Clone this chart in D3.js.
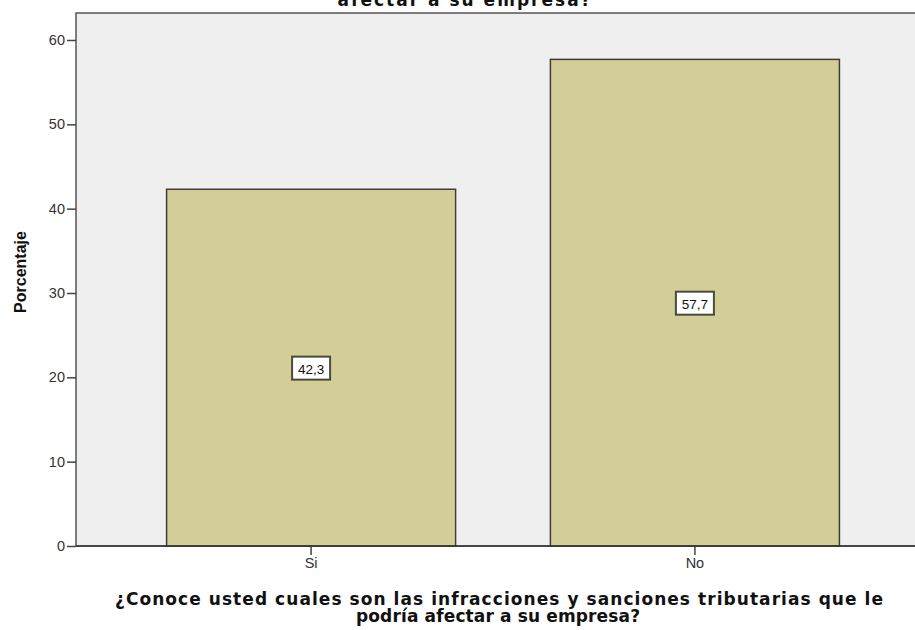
<!DOCTYPE html>
<head>
  <meta charset="utf-8">
  <script src="https://cdnjs.cloudflare.com/ajax/libs/d3/7.8.5/d3.min.js"></script>
  <style>
    body { margin: 0; background: #fff; }
    svg { display: block; }
    .axis text { font-family: 'Liberation Sans', Arial, sans-serif; font-size: 14.5px; fill: #333; }
    .axis path, .axis line { stroke: #444; stroke-width: 1.5px; }
    .title { font-family: 'DejaVu Sans', Verdana, sans-serif; font-weight: bold; font-size: 17px; fill: #111; }
    .ylabel { font-family: 'Liberation Sans', Arial, sans-serif; font-weight: bold; font-size: 16px; fill: #111; }
    .lbl { font-family: 'Liberation Sans', Arial, sans-serif; font-size: 13.5px; fill: #111; }
  </style>
</head>
<body>
  <script>
    // datos
    var categories = ["Si", "No"];
    var values = [42.3, 57.7];
    var valueLabels = ["42,3", "57,7"];
    var yTicks = [0, 10, 20, 30, 40, 50, 60];

    var W = 915, H = 630;
    var plot = { left: 76, top: 13, right: 930, bottom: 546 };

    var svg = d3.select("body").append("svg")
        .attr("width", W)
        .attr("height", H);

    var y = d3.scaleLinear()
        .domain([0, 63.2])
        .range([plot.bottom, plot.top]);

    var x = d3.scaleBand()
        .domain(categories)
        .range([plot.left, plot.right])
        .paddingInner(0.247)
        .paddingOuter(0.236);

    // fondo del grafico
    svg.append("rect")
        .attr("x", plot.left)
        .attr("y", plot.top)
        .attr("width", plot.right - plot.left)
        .attr("height", plot.bottom - plot.top)
        .attr("fill", "#efefef")
        .attr("stroke", "#555")
        .attr("stroke-width", 1.5);

    // barras
    var data = categories.map(function(c, i) { return { cat: c, val: values[i], lbl: valueLabels[i] }; });

    svg.selectAll(".bar")
        .data(data)
      .enter().append("rect")
        .attr("class", "bar")
        .attr("x", function(d) { return x(d.cat); })
        .attr("y", function(d) { return y(d.val); })
        .attr("width", x.bandwidth())
        .attr("height", function(d) { return y(0) - y(d.val); })
        .attr("fill", "#d3ce97")
        .attr("stroke", "#3f3f35")
        .attr("stroke-width", 1.5);

    // etiquetas de valor
    var lab = svg.selectAll(".vl")
        .data(data)
      .enter().append("g")
        .attr("class", "vl")
        .attr("transform", function(d) {
          return "translate(" + (x(d.cat) + x.bandwidth() / 2) + "," + y(d.val / 2) + ")";
        });

    lab.append("rect")
        .attr("x", -19)
        .attr("y", -11)
        .attr("width", 38)
        .attr("height", 23)
        .attr("fill", "#fff")
        .attr("stroke", "#4a4a3c")
        .attr("stroke-width", 2);

    lab.append("text")
        .attr("class", "lbl")
        .attr("text-anchor", "middle")
        .attr("y", 1)
        .attr("dy", "0.36em")
        .text(function(d) { return d.lbl; });

    // ejes
    svg.append("g")
        .attr("class", "axis")
        .attr("transform", "translate(" + plot.left + ",0)")
        .call(d3.axisLeft(y).tickValues(yTicks).tickSize(9).tickPadding(2))
        .select(".domain").remove();

    svg.append("g")
        .attr("class", "axis")
        .attr("transform", "translate(0," + plot.bottom + ")")
        .call(d3.axisBottom(x).tickSize(9).tickPadding(3))
        .select(".domain").remove();

    svg.append("line")
        .attr("x1", plot.left).attr("x2", plot.right)
        .attr("y1", plot.bottom).attr("y2", plot.bottom)
        .attr("stroke", "#333").attr("stroke-width", 1.5);

    // titulos (el primero queda cortado arriba, como en el original)
    svg.append("text")
        .attr("class", "title")
        .attr("x", 464)
        .attr("y", 6)
        .attr("text-anchor", "middle")
        .attr("textLength", 253)
        .attr("lengthAdjust", "spacing")
        .text("afectar a su empresa?");

    svg.append("text")
        .attr("class", "title")
        .attr("x", 499)
        .attr("y", 605)
        .attr("text-anchor", "middle")
        .attr("textLength", 768)
        .attr("lengthAdjust", "spacing")
        .text("¿Conoce usted cuales son las infracciones y sanciones tributarias que le");

    svg.append("text")
        .attr("class", "title")
        .attr("x", 498)
        .attr("y", 622)
        .attr("text-anchor", "middle")
        .attr("textLength", 284)
        .attr("lengthAdjust", "spacing")
        .text("podría afectar a su empresa?");

    svg.append("text")
        .attr("class", "ylabel")
        .attr("transform", "translate(26,272) rotate(-90)")
        .attr("text-anchor", "middle")
        .text("Porcentaje");
  </script>
</body>
